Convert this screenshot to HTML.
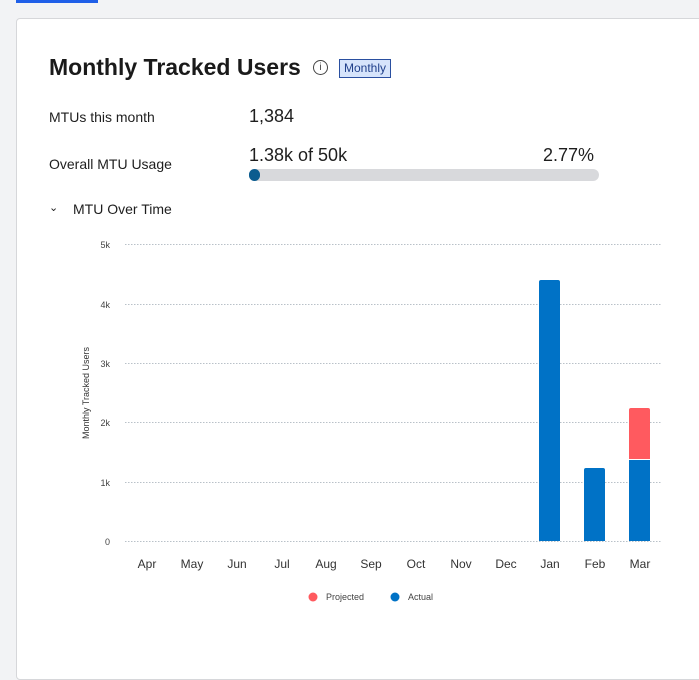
<!DOCTYPE html>
<html><head><meta charset="utf-8"><style>
body{margin:0;width:699px;height:662px;background:#f2f3f5;position:relative;overflow:hidden;font-family:"Liberation Sans",sans-serif;color:#1e1e1e}
.a{position:absolute;white-space:nowrap}
</style></head><body>
<div class="a" style="left:16px;top:0;width:82px;height:3px;background:#1f5fe8"></div>
<div class="a" style="left:16px;top:18px;width:700px;height:660px;background:#fff;border:1px solid #d6d7da;border-radius:4px"></div>
<div class="a" style="left:49px;top:54px;font-size:23px;font-weight:bold;color:#1a1a1a">Monthly Tracked Users</div>
<div class="a" style="left:313px;top:60px;width:13px;height:13px;border:1.5px solid #444;border-radius:50%;font-size:10px;text-align:center;line-height:13px;color:#444">i</div>
<div class="a" style="left:339px;top:59px;width:50px;height:17px;border:1px solid #2a4fa0;background:#d6e4fb;color:#1f3f8a;font-size:12px;line-height:17px;text-align:center">Monthly</div>
<div class="a" style="left:49px;top:109px;font-size:14px">MTUs this month</div>
<div class="a" style="left:249px;top:106px;font-size:18px">1,384</div>
<div class="a" style="left:49px;top:156px;font-size:14px">Overall MTU Usage</div>
<div class="a" style="left:249px;top:145px;font-size:18px">1.38k of 50k</div>
<div class="a" style="left:543px;top:145px;font-size:18px">2.77%</div>
<div class="a" style="left:249px;top:169px;width:350px;height:12px;background:#d8d9dc;border-radius:6px"></div>
<div class="a" style="left:249px;top:169px;width:11px;height:12px;background:#0b5c8f;border-radius:6px"></div>
<div class="a" style="left:49px;top:201px;font-size:11px">&#8964;</div>
<div class="a" style="left:73px;top:201px;font-size:14px">MTU Over Time</div>
<svg class="a" style="left:0;top:0" width="699" height="662">
<g stroke="#b9c1c8" stroke-dasharray="1.5,1.5" stroke-width="1">
<line x1="125" x2="662" y1="244.5" y2="244.5"/><line x1="125" x2="662" y1="304.5" y2="304.5"/><line x1="125" x2="662" y1="363.5" y2="363.5"/><line x1="125" x2="662" y1="422.5" y2="422.5"/><line x1="125" x2="662" y1="482.5" y2="482.5"/><line x1="125" x2="662" y1="541.5" y2="541.5"/>
</g>
<g font-family="Liberation Sans" font-size="9" fill="#444" text-anchor="end">
<text x="110" y="248">5k</text><text x="110" y="308">4k</text><text x="110" y="367">3k</text><text x="110" y="426">2k</text><text x="110" y="486">1k</text><text x="110" y="545">0</text>
</g>
<text transform="translate(89,393) rotate(-90)" font-family="Liberation Sans" font-size="9" fill="#333" text-anchor="middle">Monthly Tracked Users</text>
<g font-family="Liberation Sans" font-size="12" fill="#333" text-anchor="middle">
<text x="147" y="568">Apr</text><text x="192" y="568">May</text><text x="237" y="568">Jun</text><text x="282" y="568">Jul</text><text x="326" y="568">Aug</text><text x="371" y="568">Sep</text><text x="416" y="568">Oct</text><text x="461" y="568">Nov</text><text x="506" y="568">Dec</text><text x="550" y="568">Jan</text><text x="595" y="568">Feb</text><text x="640" y="568">Mar</text>
</g>
<path d="M539 541V282q0-2 2-2h17q2 0 2 2V541z" fill="#0072c6"/>
<path d="M584 541V470q0-2 2-2h17q2 0 2 2V541z" fill="#0072c6"/>
<rect x="629" y="460" width="21" height="81" fill="#0072c6"/>
<path d="M629 459V410q0-2 2-2h17q2 0 2 2V459z" fill="#ff5a5f"/>
<circle cx="313" cy="597" r="4.5" fill="#ff5a5f"/>
<circle cx="395" cy="597" r="4.5" fill="#0072c6"/>
<g font-family="Liberation Sans" font-size="9" fill="#444"><text x="326" y="600">Projected</text><text x="408" y="600">Actual</text></g>
</svg>
</body></html>
